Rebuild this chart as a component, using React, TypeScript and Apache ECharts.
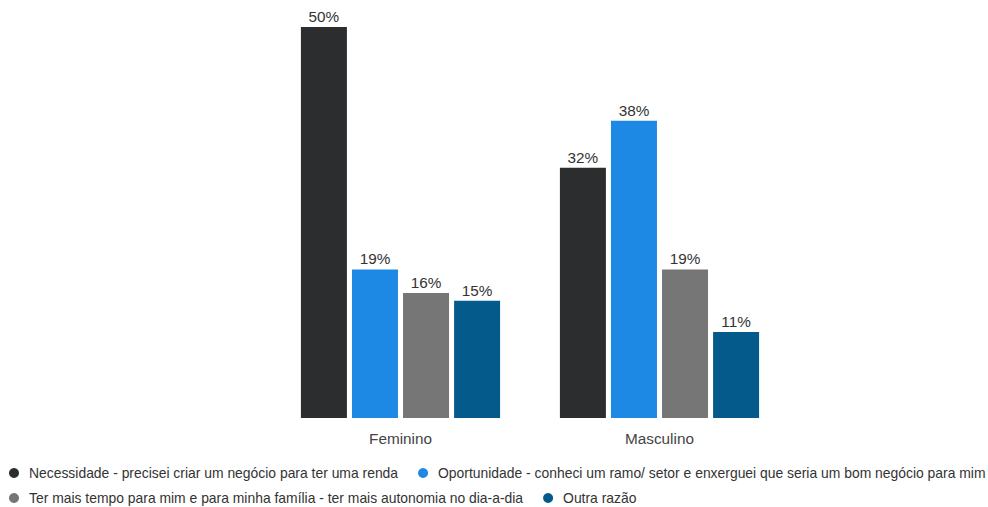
import React, { useEffect, useRef } from "react";
import * as echarts from "echarts";

const categories = ["Feminino", "Masculino"];
const seriesNames = [
  "Necessidade - precisei criar um negócio para ter uma renda",
  "Oportunidade - conheci um ramo/ setor e enxerguei que seria um bom negócio para mim",
  "Ter mais tempo para mim e para minha família - ter mais autonomia no dia-a-dia",
  "Outra razão",
];
const necessidade = [50, 32];
const oportunidade = [19, 38];
const maisTempo = [16, 19];
const outra = [15, 11];
const colors = ["#2c2d2f", "#1e88e5", "#767676", "#055a8c"];
const FONT = "Liberation Sans, Arial, sans-serif";

export default function App() {
  const ref = useRef<HTMLDivElement>(null);
  useEffect(() => {
    if (!ref.current) return;
    const chart = echarts.init(ref.current, undefined, { renderer: "svg" });
    const values = [necessidade, oportunidade, maisTempo, outra];
    const legendBase = {
      left: 4,
      width: 1200,
      padding: 0,
      orient: "horizontal" as const,
      icon: "circle",
      itemWidth: 20,
      itemHeight: 10,
      itemGap: 20,
      textStyle: { fontSize: 13.9, color: "#333", fontFamily: FONT },
    };
    chart.setOption({
      animation: false,
      color: colors,
      grid: { left: 271, right: 199, top: 27, bottom: 89 },
      legend: [
        { ...legendBase, left: 9, top: 466, data: [seriesNames[0], seriesNames[1]] },
        { ...legendBase, left: 9, top: 491, data: [seriesNames[2], seriesNames[3]] },
      ],
      xAxis: {
        type: "category",
        data: categories,
        axisLine: { show: false },
        axisTick: { show: false },
        axisLabel: {
          margin: 13,
          fontSize: 15.3,
          color: "#444",
          fontFamily: FONT,
        },
      },
      yAxis: {
        type: "value",
        min: 0,
        max: 50,
        show: false,
        splitLine: { show: false },
      },
      series: seriesNames.map((name, i) => ({
        name,
        type: "bar",
        data: values[i],
        barWidth: 46,
        barGap: "11%",
        itemStyle: { color: colors[i] },
        label: {
          show: true,
          position: "top",
          distance: 3,
          formatter: "{c}%",
          fontSize: 15.3,
          color: "#333",
          fontFamily: FONT,
        },
      })),
    });
    return () => chart.dispose();
  }, []);
  return <div ref={ref} style={{ width: 988, height: 507, position: "absolute", left: 0, top: 0 }} />;
}
